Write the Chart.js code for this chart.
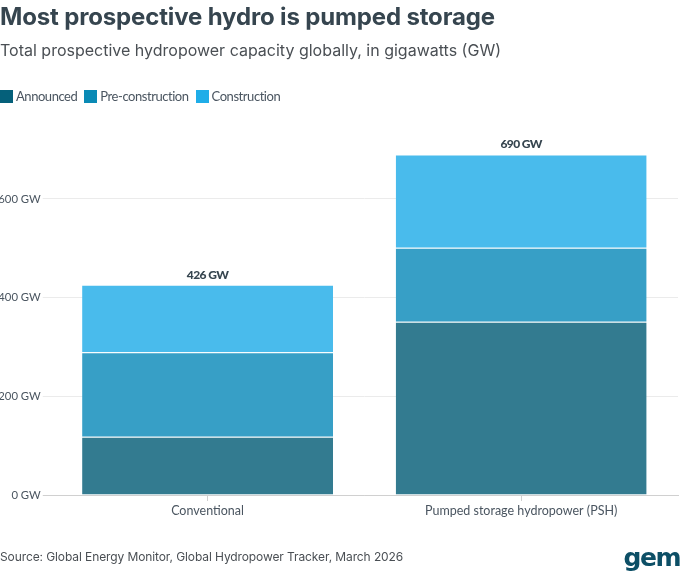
<!DOCTYPE html>
<html>
<head>
<meta charset="utf-8">
<title>Most prospective hydro is pumped storage</title>
<script src="https://cdn.jsdelivr.net/npm/chart.js@4"></script>
<style>
  html, body { margin: 0; padding: 0; background: #fff; }
  #page { position: relative; width: 680px; height: 575px; overflow: hidden; font-family: "Inter", sans-serif; }
  #grafico { position: absolute; left: 0; top: 0; }
  .txt { position: absolute; white-space: nowrap; }
  #titulo { left: 0; top: 1px; font-size: 24px; line-height: 32px; font-weight: 700; color: #36454f; letter-spacing: -0.15px; }
  #subtitulo { left: 0; top: 38px; font-size: 16px; line-height: 24px; color: #4a4f54; }
  #legenda { left: 0; top: 88px; display: flex; font: 13px/16px "Lato", sans-serif; letter-spacing: -0.45px; color: #4a5560; }
  #legenda span.item { display: flex; align-items: center; margin-right: 7px; }
  #legenda i { display: block; width: 13px; height: 13px; margin-right: 3px; }
  #fonte { left: 0; top: 549px; font-size: 12px; line-height: 16px; letter-spacing: -0.1px; color: #4a4f54; }
  #logo { right: 0; top: 543px; font: 700 25px/30px "DejaVu Sans", sans-serif; color: #0d4f66; letter-spacing: -1.5px; }
</style>
</head>
<body>
<div id="page">
  <canvas id="grafico" width="680" height="575"></canvas>
  <div class="txt" id="titulo">Most prospective hydro is pumped storage</div>
  <div class="txt" id="subtitulo">Total prospective hydropower capacity globally, in gigawatts (GW)</div>
  <div class="txt" id="legenda"></div>
  <div class="txt" id="fonte">Source: Global Energy Monitor, Global Hydropower Tracker, March 2026</div>
  <div class="txt" id="logo">gem</div>
</div>
<script>
const categorias = ['Conventional', 'Pumped storage hydropower (PSH)'];
const anunciado = [118, 351];
const preConstrucao = [171, 150];
const construcao = [137, 189];
const totais = ['426 GW', '690 GW'];
const ticksY = [0, 200, 400, 600];

const nomes = ['Announced', 'Pre-construction', 'Construction'];
const coresLegenda = ['#05607a', '#0a8ab5', '#1fade8'];
const coresBarras = ['#337b90', '#379fc6', '#49bbec'];

// legenda em html, colada na margem esquerda
document.getElementById('legenda').innerHTML = nomes.map((nome, i) =>
  `<span class="item"><i style="background:${coresLegenda[i]}"></i>${nome}</span>`
).join('');

// total em cima de cada barra
const rotuloTotal = {
  id: 'rotuloTotal',
  afterDatasetsDraw(chart) {
    const ctx = chart.ctx;
    const meta = chart.getDatasetMeta(2);
    ctx.save();
    ctx.font = '900 12px "Lato", sans-serif';
    ctx.letterSpacing = '-0.6px';
    ctx.fillStyle = '#36454f';
    ctx.textAlign = 'center';
    ctx.textBaseline = 'bottom';
    meta.data.forEach((barra, i) => {
      ctx.fillText(totais[i], barra.x, barra.y - 4);
    });
    ctx.restore();
  }
};

const contexto = document.getElementById('grafico').getContext('2d');
contexto.letterSpacing = '-0.45px';

const grafico = new Chart(contexto, {
  type: 'bar',
  data: {
    labels: categorias,
    datasets: [anunciado, preConstrucao, construcao].map((valores, i) => ({
      label: nomes[i],
      data: valores,
      backgroundColor: coresBarras[i],
      borderColor: '#ffffff',
      borderWidth: { top: 1 },
      borderSkipped: false,
      categoryPercentage: 1,
      barPercentage: 0.8
    }))
  },
  options: {
    responsive: false,
    animation: false,
    layout: { padding: { top: 149.5, bottom: 50, left: 0, right: 2 } },
    plugins: {
      legend: { display: false },
      title: { display: false },
      tooltip: { enabled: false }
    },
    scales: {
      x: {
        stacked: true,
        afterFit(escala) { escala.height = 30; },
        grid: { drawOnChartArea: false, offset: false, color: '#d0d0d0', tickLength: 6 },
        border: { color: '#d0d0d0' },
        ticks: { color: '#4a5560', font: { family: '"Lato", sans-serif', size: 12.5 }, padding: 2 }
      },
      y: {
        stacked: true,
        min: 0,
        max: 700,
        afterFit(escala) { escala.width = 50.75; },
        afterBuildTicks(escala) { escala.ticks = ticksY.map(v => ({ value: v })); },
        grid: {
          color: ctx => ctx.tick && ctx.tick.value === 0 ? '#d0d0d0' : '#ebebeb',
          tickLength: 8
        },
        border: { display: false },
        ticks: {
          color: '#4a5560',
          font: { family: '"Lato", sans-serif', size: 11.3 },
          padding: 2,
          callback: v => v + ' GW'
        }
      }
    }
  },
  plugins: [rotuloTotal]
});
</script>
</body>
</html>
